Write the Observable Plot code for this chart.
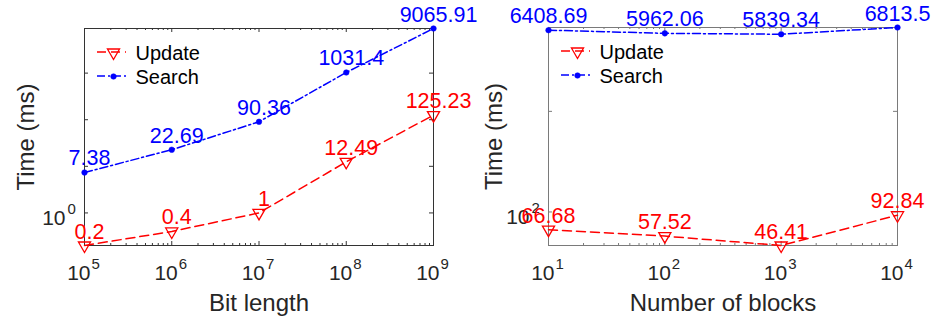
<!DOCTYPE html>
<html>
<head>
<meta charset="utf-8">
<script src="https://cdn.jsdelivr.net/npm/d3@7"></script>
<script src="https://cdn.jsdelivr.net/npm/@observablehq/plot@0.6"></script>
<style>
  html, body { margin: 0; padding: 0; background: #fff; }
  #wrap { display: flex; width: 936px; height: 320px; }
</style>
</head>
<body>
<div id="wrap"></div>
<script>
// ---- Data ----
const bitLength = [1e5, 1e6, 1e7, 1e8, 1e9];
const updateByBits = [0.2, 0.4, 1, 12.49, 125.23];
const searchByBits = [7.38, 22.69, 90.36, 1031.4, 9065.91];

const numBlocks = [10, 100, 1000, 10000];
const updateByBlocks = [66.68, 57.52, 46.41, 92.84];
const searchByBlocks = [6408.69, 5962.06, 5839.34, 6813.5];

const bitsXExponents = [5, 6, 7, 8, 9];
const blocksXExponents = [1, 2, 3, 4];
const bitsYLabelExponents = [0];
const blocksYLabelExponents = [2];

const seriesNames = ["Update", "Search"];
const xTitles = ["Bit length", "Number of blocks"];
const yTitle = "Time (ms)";

// ---- Styles ----
const RED = "#ff0000", BLUE = "#0000ff", INK = "#262626";
const FONT = "'Liberation Sans', Arial, Helvetica, sans-serif";
const W = 468, H = 320;

function panel({xs, upd, sea, xExp, yLabExp, xTitle, mL, mR, mT, mB, frameColor, labelDx}) {
  const innerW = W - mL - mR, innerH = H - mT - mB;
  const rowsU = xs.map((x, i) => ({x, y: upd[i]}));
  const rowsS = xs.map((x, i) => ({x, y: sea[i]}));
  const xDomain = d3.extent(xs);
  const yDomain = [d3.min(upd.concat(sea)), d3.max(upd.concat(sea))];
  const xMajor = xExp.map(e => 10 ** e);
  const xMinor = d3.scaleLog().domain(xDomain).ticks().filter(v => !xMajor.includes(v));
  const yMajor = d3.scaleLog().domain(yDomain).ticks().filter(v => Math.abs(Math.log10(v) - Math.round(Math.log10(v))) < 1e-9);
  const tk = 4, tkm = 2;

  const svg = Plot.plot({
    width: W, height: H,
    marginLeft: mL, marginRight: mR, marginTop: mT, marginBottom: mB,
    style: {fontFamily: FONT, fontSize: "20px", color: INK, background: "transparent", overflow: "visible"},
    x: {type: "log", domain: xDomain, axis: null},
    y: {type: "log", domain: yDomain, axis: null},
    marks: [
      // inward ticks
      Plot.ruleX(xMajor, {x: d => d, insetTop: innerH - tk, stroke: frameColor}),
      Plot.ruleX(xMajor, {x: d => d, insetBottom: innerH - tk, stroke: frameColor}),
      Plot.ruleX(xMinor, {x: d => d, insetTop: innerH - tkm, stroke: frameColor}),
      Plot.ruleX(xMinor, {x: d => d, insetBottom: innerH - tkm, stroke: frameColor}),
      Plot.ruleY(yMajor, {y: d => d, insetRight: innerW - tk, stroke: frameColor}),
      Plot.ruleY(yMajor, {y: d => d, insetLeft: innerW - tk, stroke: frameColor}),
      Plot.frame({stroke: frameColor, strokeWidth: 1}),
      // x tick labels 10^n
      Plot.text(xExp, {x: d => 10 ** d, text: () => "10", frameAnchor: "bottom", dy: 34, dx: 6,
        textAnchor: "end", lineAnchor: "bottom", fill: INK, fontSize: 21}),
      Plot.text(xExp, {x: d => 10 ** d, text: d => String(d), frameAnchor: "bottom", dy: 23, dx: 7,
        textAnchor: "start", lineAnchor: "bottom", fill: INK, fontSize: 15}),
      // y tick labels
      Plot.text(yLabExp, {y: d => 10 ** d, text: () => "10", frameAnchor: "left", dy: 12, dx: -19,
        textAnchor: "end", lineAnchor: "bottom", fill: INK, fontSize: 21}),
      Plot.text(yLabExp, {y: d => 10 ** d, text: d => String(d), frameAnchor: "left", dy: 1, dx: -17,
        textAnchor: "start", lineAnchor: "bottom", fill: INK, fontSize: 15}),
      // axis titles
      Plot.text([xTitle], {text: d => d, frameAnchor: "bottom", dy: 65, textAnchor: "middle", lineAnchor: "bottom", fill: INK, fontSize: 24}),
      Plot.text([yTitle], {text: d => d, frameAnchor: "left", dx: -(mL - 33), rotate: -90, textAnchor: "middle", lineAnchor: "bottom", fill: INK, fontSize: 24}),
      // series
      Plot.line(rowsU, {x: "x", y: "y", stroke: RED, strokeWidth: 1.5, strokeDasharray: "9,5"}),
      Plot.line(rowsS, {x: "x", y: "y", stroke: BLUE, strokeWidth: 1.5, strokeDasharray: "8,3,2,3"}),
      Plot.dot(rowsU, {x: "x", y: "y", symbol: "triangle", rotate: 180, r: 4.5, stroke: RED, fill: "none", strokeWidth: 1.3}),
      Plot.dot(rowsS, {x: "x", y: "y", r: 2.8, fill: BLUE, stroke: BLUE, strokeWidth: 0.5}),
      // data labels
      Plot.text(rowsU, {x: "x", y: "y", text: d => String(d.y), dy: -7, dx: labelDx, textAnchor: "middle", lineAnchor: "bottom", fill: RED, fontSize: 21.5}),
      Plot.text(rowsS, {x: "x", y: "y", text: d => String(d.y), dy: -7, dx: labelDx, textAnchor: "middle", lineAnchor: "bottom", fill: BLUE, fontSize: 21.5}),
      // legend texts and markers
      Plot.text([seriesNames[0]], {text: d => d, frameAnchor: "top-left", dx: 51, dy: 31, lineAnchor: "bottom",
        textAnchor: "start", fill: "#000", fontSize: 20}),
      Plot.text([seriesNames[1]], {text: d => d, frameAnchor: "top-left", dx: 51, dy: 55, lineAnchor: "bottom",
        textAnchor: "start", fill: "#000", fontSize: 20}),
      Plot.dot([seriesNames[0]], {frameAnchor: "top-left", dx: 29, dy: 24, symbol: "triangle", rotate: 180, r: 4.5,
        stroke: RED, fill: "none", strokeWidth: 1.3}),
      Plot.dot([seriesNames[1]], {frameAnchor: "top-left", dx: 29, dy: 48, r: 2.8, fill: BLUE, stroke: BLUE, strokeWidth: 0.5})
    ]
  });
  // legend line samples
  const g = d3.select(svg).append("g");
  g.append("line").attr("x1", mL + 13).attr("x2", mL + 42).attr("y1", mT + 24).attr("y2", mT + 24)
    .attr("stroke", RED).attr("stroke-width", 1.5).attr("stroke-dasharray", "9,5");
  g.append("line").attr("x1", mL + 13).attr("x2", mL + 42).attr("y1", mT + 48).attr("y2", mT + 48)
    .attr("stroke", BLUE).attr("stroke-width", 1.5).attr("stroke-dasharray", "8,3,2,3");
  return svg;
}

const wrap = document.getElementById("wrap");
wrap.append(panel({xs: bitLength, upd: updateByBits, sea: searchByBits, xExp: bitsXExponents, yLabExp: bitsYLabelExponents,
  xTitle: xTitles[0], mL: 84, mR: 35, mT: 28, mB: 75, frameColor: "#333", labelDx: 5}));
wrap.append(panel({xs: numBlocks, upd: updateByBlocks, sea: searchByBlocks, xExp: blocksXExponents, yLabExp: blocksYLabelExponents,
  xTitle: xTitles[1], mL: 80, mR: 39, mT: 27, mB: 75, frameColor: "#7a7a7a", labelDx: 0}));
</script>
</body>
</html>
